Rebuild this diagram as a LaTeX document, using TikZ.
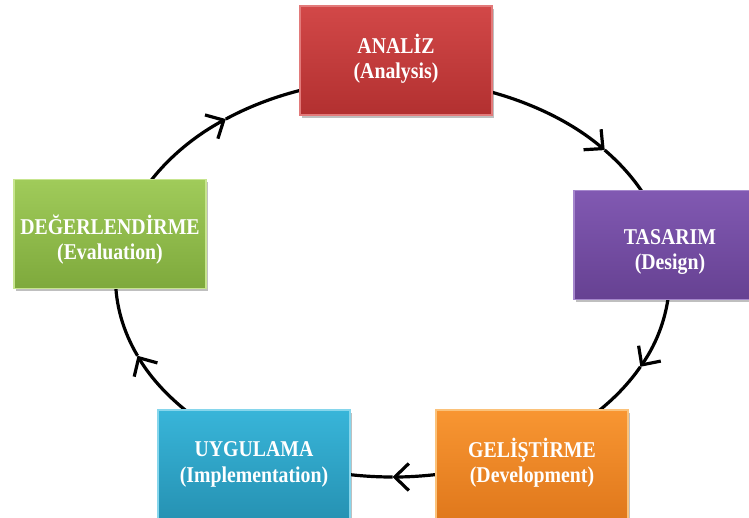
\documentclass[tikz,border=0pt]{standalone}
\usepackage{fontspec}
\setmainfont{Liberation Serif}
\usetikzlibrary{arrows.meta,shadows,calc}

% fill colours of the five phases (top / bottom of the gradient, rim)
\definecolor{redTop}{HTML}{D24848}
\definecolor{redBot}{HTML}{B23030}
\definecolor{redRim}{HTML}{E27A7A}
\definecolor{purTop}{HTML}{8159B2}
\definecolor{purBot}{HTML}{664192}
\definecolor{purRim}{HTML}{A587CC}
\definecolor{orgTop}{HTML}{F89632}
\definecolor{orgBot}{HTML}{E0781C}
\definecolor{orgRim}{HTML}{FBC27A}
\definecolor{bluTop}{HTML}{38B5D9}
\definecolor{bluBot}{HTML}{2692B3}
\definecolor{bluRim}{HTML}{86D6EC}
\definecolor{grnTop}{HTML}{A0CB5A}
\definecolor{grnBot}{HTML}{7EA93C}
\definecolor{grnRim}{HTML}{C7E58F}

% two-line label, set a little taller than wide
\newcommand{\phaselabel}[2]{\scalebox{1}[1.14]{\begin{tabular}{@{}c@{}}#1\\#2\end{tabular}}}
% same label, sitting a little lower in its box
\newcommand{\lowlabel}[2]{\raisebox{-7pt}[\height][\depth]{\phaselabel{#1}{#2}}}

\tikzset{
  phase/.style n args={3}{
    rectangle, minimum width=192pt, minimum height=109pt, inner sep=0pt,
    align=center, text=white,
    font=\fontsize{19.8}{22}\selectfont\bfseries,
    top color=#1, bottom color=#2, draw=#3, line width=1.2pt,
    drop shadow={shadow xshift=2pt, shadow yshift=-3pt, opacity=0.25, fill=black}
  },
  conn/.style={line width=3.2pt, black},
  tip/.style={-{Straight Barb[length=14pt,width=27pt]}},
  ring/.style={x radius=277pt, y radius=199pt}
}

\begin{document}
\begin{tikzpicture}[x=1pt,y=1pt]
  \useasboundingbox (0,0) rectangle (749,-518);
  \fill[white] (0,0) rectangle (749,-518);

  % centre of the cycle
  \coordinate (ctr) at (392.5,-278);

  % ring segments: start and arrow tip of each
  \foreach \n/\s/\m in {one/72/40, two/-3/-26.5, three/-80/-90,
                        four/224/203, five/153/127} {
    \coordinate (\n s) at ($(ctr)+(\s:277pt and 199pt)$);
    \coordinate (\n m) at ($(ctr)+(\m:277pt and 199pt)$);
  }

  \draw[conn,tip] (ones) arc[ring, start angle=72, end angle=40];
  \draw[conn] (onem) arc[ring, start angle=40, end angle=24];

  \draw[conn,tip] (twos) arc[ring, start angle=-3, end angle=-26.5];
  \draw[conn] (twom) arc[ring, start angle=-26.5, end angle=-45];

  \draw[conn,tip] (threes) arc[ring, start angle=-80, end angle=-90];
  \draw[conn] (threem) arc[ring, start angle=-90, end angle=-100];

  \draw[conn,tip] (fours) arc[ring, start angle=224, end angle=203];
  \draw[conn] (fourm) arc[ring, start angle=203, end angle=180];

  \draw[conn,tip] (fives) arc[ring, start angle=153, end angle=127];
  \draw[conn] (fivem) arc[ring, start angle=127, end angle=106];

  % the five phases
  \node[phase={redTop}{redBot}{redRim}] (analiz) at (396,-60.5)
    {\phaselabel{ANALİZ}{(Analysis)}};
  \node[phase={purTop}{purBot}{purRim}] (tasarim) at (670,-245)
    {\lowlabel{TASARIM}{(Design)}};
  \node[phase={orgTop}{orgBot}{orgRim}] (gelistirme) at (532,-464.5)
    {\phaselabel{GELİŞTİRME}{(Development)}};
  \node[phase={bluTop}{bluBot}{bluRim}] (uygulama) at (254,-464.5)
    {\phaselabel{UYGULAMA}{(Implementation)}};
  \node[phase={grnTop}{grnBot}{grnRim}] (degerlendirme) at (110,-234)
    {\lowlabel{DEĞERLENDİRME}{(Evaluation)}};
\end{tikzpicture}
\end{document}
